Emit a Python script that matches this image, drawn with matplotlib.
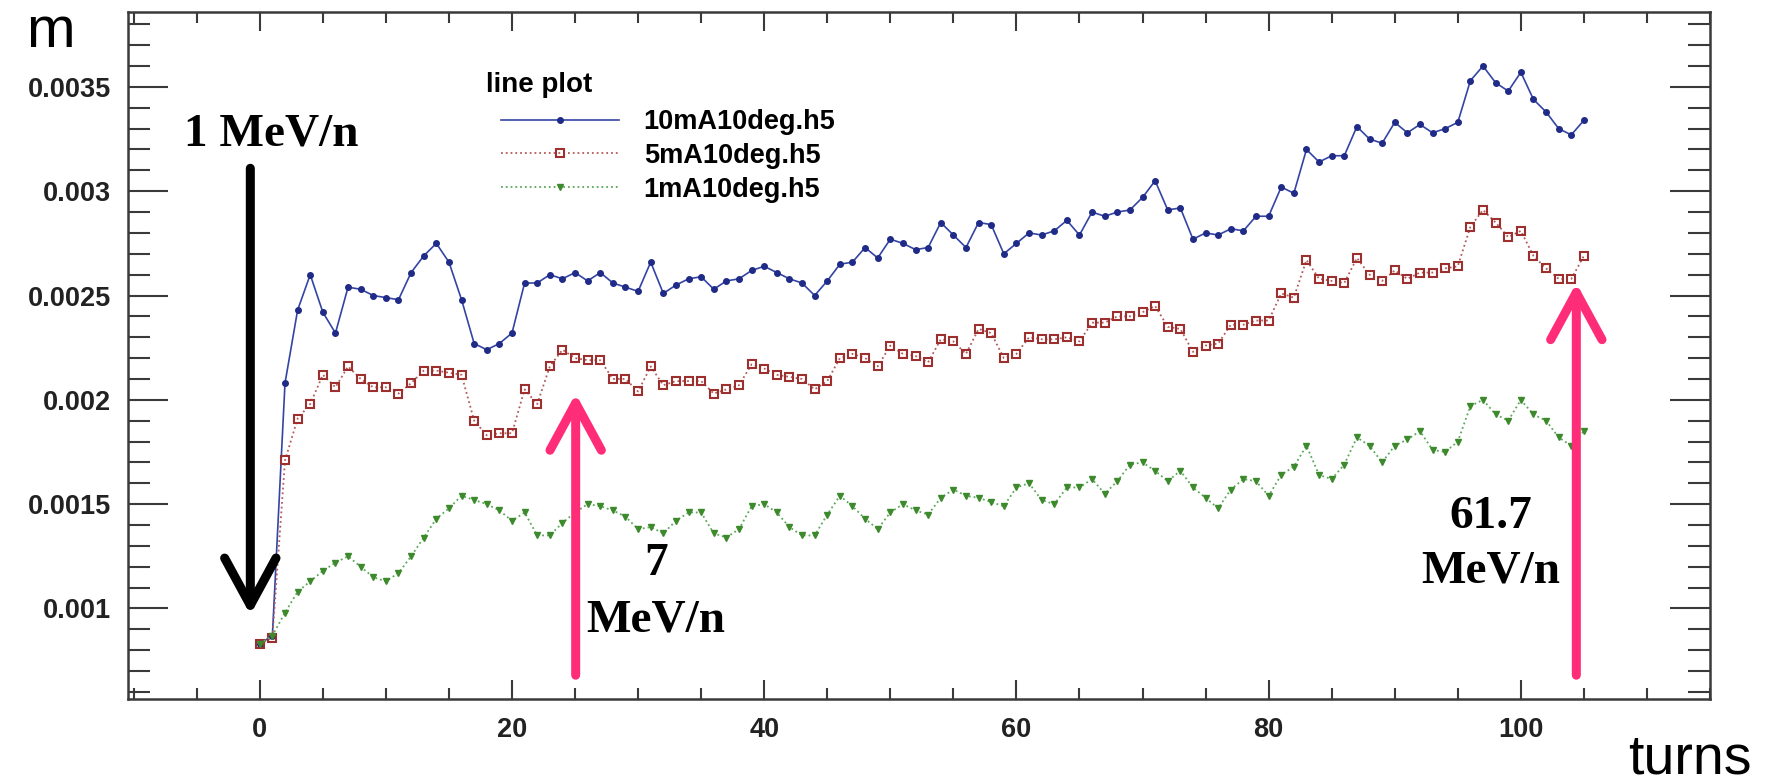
import numpy as np
import matplotlib
matplotlib.use("Agg")
import matplotlib.pyplot as plt
from matplotlib.ticker import FixedLocator, MultipleLocator

# beam size per turn for the three current settings
turns = np.arange(0, 106)

m_10mA = [0.00083, 0.00087, 0.00208, 0.00243, 0.00260, 0.00242, 0.00232, 0.00254, 0.00253, 0.00250,
          0.00249, 0.00248, 0.00261, 0.00269, 0.00275, 0.00266, 0.00248, 0.00227, 0.00224, 0.00227,
          0.00232, 0.00256, 0.00256, 0.00260, 0.00258, 0.00261, 0.00257, 0.00261, 0.00256, 0.00254,
          0.00252, 0.00266, 0.00251, 0.00255, 0.00258, 0.00259, 0.00253, 0.00257, 0.00258, 0.00262,
          0.00264, 0.00261, 0.00258, 0.00256, 0.00250, 0.00257, 0.00265, 0.00266, 0.00273, 0.00268,
          0.00277, 0.00275, 0.00272, 0.00273, 0.00285, 0.00279, 0.00273, 0.00285, 0.00284, 0.00270,
          0.00275, 0.00280, 0.00279, 0.00281, 0.00286, 0.00279, 0.00290, 0.00288, 0.00290, 0.00291,
          0.00297, 0.00305, 0.00291, 0.00292, 0.00277, 0.00280, 0.00279, 0.00282, 0.00281, 0.00288,
          0.00288, 0.00302, 0.00299, 0.00320, 0.00314, 0.00317, 0.00317, 0.00331, 0.00325, 0.00323,
          0.00333, 0.00328, 0.00332, 0.00328, 0.00330, 0.00333, 0.00353, 0.00360, 0.00352, 0.00348,
          0.00357, 0.00344, 0.00338, 0.00330, 0.00327, 0.00334]

m_5mA = [0.00083, 0.00086, 0.00171, 0.00191, 0.00198, 0.00212, 0.00206, 0.00216, 0.00210, 0.00206,
         0.00206, 0.00203, 0.00208, 0.00214, 0.00214, 0.00213, 0.00212, 0.00190, 0.00183, 0.00184,
         0.00184, 0.00205, 0.00198, 0.00216, 0.00224, 0.00220, 0.00219, 0.00219, 0.00210, 0.00210,
         0.00204, 0.00216, 0.00207, 0.00209, 0.00209, 0.00209, 0.00203, 0.00205, 0.00207, 0.00217,
         0.00215, 0.00212, 0.00211, 0.00210, 0.00205, 0.00209, 0.00220, 0.00222, 0.00220, 0.00216,
         0.00226, 0.00222, 0.00221, 0.00218, 0.00229, 0.00228, 0.00222, 0.00234, 0.00232, 0.00220,
         0.00222, 0.00230, 0.00229, 0.00229, 0.00230, 0.00228, 0.00237, 0.00237, 0.00240, 0.00240,
         0.00242, 0.00245, 0.00235, 0.00234, 0.00223, 0.00226, 0.00227, 0.00236, 0.00236, 0.00238,
         0.00238, 0.00251, 0.00249, 0.00267, 0.00258, 0.00257, 0.00256, 0.00268, 0.00260, 0.00257,
         0.00262, 0.00258, 0.00261, 0.00261, 0.00263, 0.00264, 0.00283, 0.00291, 0.00285, 0.00278,
         0.00281, 0.00269, 0.00263, 0.00258, 0.00258, 0.00269]

m_1mA = [0.00083, 0.00087, 0.00098, 0.00108, 0.00113, 0.00118, 0.00122, 0.00125, 0.00120, 0.00115,
         0.00113, 0.00117, 0.00125, 0.00134, 0.00143, 0.00148, 0.00154, 0.00152, 0.00150, 0.00147,
         0.00142, 0.00146, 0.00135, 0.00135, 0.00141, 0.00146, 0.00150, 0.00149, 0.00147, 0.00144,
         0.00138, 0.00139, 0.00136, 0.00142, 0.00146, 0.00146, 0.00136, 0.00134, 0.00138, 0.00149,
         0.00150, 0.00146, 0.00139, 0.00135, 0.00135, 0.00145, 0.00154, 0.00149, 0.00143, 0.00138,
         0.00146, 0.00150, 0.00147, 0.00145, 0.00153, 0.00157, 0.00154, 0.00153, 0.00151, 0.00149,
         0.00158, 0.00160, 0.00152, 0.00150, 0.00158, 0.00158, 0.00162, 0.00155, 0.00161, 0.00169,
         0.00170, 0.00166, 0.00161, 0.00166, 0.00158, 0.00153, 0.00148, 0.00157, 0.00162, 0.00161,
         0.00154, 0.00164, 0.00168, 0.00178, 0.00164, 0.00162, 0.00169, 0.00182, 0.00178, 0.00170,
         0.00178, 0.00181, 0.00185, 0.00176, 0.00175, 0.00180, 0.00197, 0.00200, 0.00193, 0.00190,
         0.00200, 0.00193, 0.00190, 0.00182, 0.00178, 0.00185]

series_labels = ["10mA10deg.h5", "5mA10deg.h5", "1mA10deg.h5"]
x_ticks = [0, 20, 40, 60, 80, 100]
x_tick_labels = ["0", "20", "40", "60", "80", "100"]
y_ticks = [0.001, 0.0015, 0.002, 0.0025, 0.003, 0.0035]
y_tick_labels = ["0.001", "0.0015", "0.002", "0.0025", "0.003", "0.0035"]

W, H = 1766, 783
SANS = ["Liberation Sans", "DejaVu Sans"]
SERIF = ["Liberation Serif", "DejaVu Serif"]
PINK = "#ff2d78"

fig = plt.figure(figsize=(W / 100, H / 100), dpi=100)
ax = fig.add_axes([128 / W, 1 - 699 / H, (1710 - 128) / W, (699 - 12) / H])

ax.plot(turns, m_10mA, "-", color="#3444a4", lw=1.2, marker="o", ms=4,
        mfc="#1f2b86", mec="#1f2b86", label=series_labels[0])
ax.plot(turns, m_5mA, ":", color="#b45a5a", lw=1.3, marker="s", ms=5.5,
        mfc="none", mec="#9e2f2f", mew=1.5, label=series_labels[1])
ax.plot(turns, m_1mA, ":", color="#5aa85a", lw=1.3, marker="v", ms=5,
        mfc="#3d8a2d", mec="#3d8a2d", label=series_labels[2])

ax.set_xlim(-10.45, 115.0)
ax.set_ylim(0.000566, 0.003859)

ax.xaxis.set_major_locator(FixedLocator(x_ticks))
ax.xaxis.set_minor_locator(MultipleLocator(5))
ax.set_xticklabels(x_tick_labels)
ax.yaxis.set_major_locator(FixedLocator(y_ticks))
ax.yaxis.set_minor_locator(MultipleLocator(0.0001))
ax.set_yticklabels(y_tick_labels)

ax.tick_params(which="both", direction="in", top=True, right=True,
               color="#3a3a3a", width=1.5)
ax.tick_params(axis="x", which="major", length=14, pad=13)
ax.tick_params(axis="x", which="minor", length=8)
ax.tick_params(axis="y", which="major", length=29, pad=12)
ax.tick_params(axis="y", which="minor", length=16)
for lab in ax.get_xticklabels() + ax.get_yticklabels():
    lab.set_fontfamily(SANS)
    lab.set_fontweight("bold")
    lab.set_fontsize(19.5)
    lab.set_color("#222222")

for sp in ax.spines.values():
    sp.set_color("#3a3a3a")
    sp.set_linewidth(1.8)

# axis titles in the corners
fig.text(50 / W, 1 - 47 / H, "m", fontsize=42, family=SANS, ha="center", va="baseline")
fig.text(1752 / W, 1 - 773 / H, "turns", fontsize=40, family=SANS, ha="right", va="baseline")

# legend: title drawn on its own, entries below it
fig.text(486 / W, 1 - 85 / H, "line plot", fontsize=20, family=SANS, weight="bold",
         ha="left", va="center")
leg = ax.legend(loc="upper left",
                bbox_to_anchor=(501 / W, 1 - 109 / H), bbox_transform=fig.transFigure,
                frameon=False, prop={"family": SANS, "weight": "bold", "size": 19.5},
                handlelength=4.35, handletextpad=0.92, labelspacing=0.29,
                borderpad=0, borderaxespad=0, numpoints=1)


def energy_arrow(x, y_tail, y_tip, color):
    ax.annotate("", xy=(x, y_tip), xytext=(x, y_tail),
                arrowprops=dict(arrowstyle="->,head_length=0.68,head_width=0.37",
                                color=color, lw=6.5, shrinkA=0, shrinkB=0,
                                mutation_scale=50, capstyle="round", joinstyle="round"))


energy_arrow(-0.75, 0.00311, 0.00097, "black")
energy_arrow(25.05, 0.00068, 0.00203, PINK)
energy_arrow(104.4, 0.00068, 0.00256, PINK)

txt = dict(fontsize=34, family=SERIF, weight="bold", ha="center", va="baseline")
ax.text(0.94, 0.003221, "1 MeV/n", **txt)
ax.text(31.4, 0.001161, "7", **txt)
ax.text(31.4, 0.000888, "MeV/n", **txt)
ax.text(97.6, 0.001386, "61.7", **txt)
ax.text(97.6, 0.001123, "MeV/n", **txt)

fig.savefig("out.png", dpi=100)
